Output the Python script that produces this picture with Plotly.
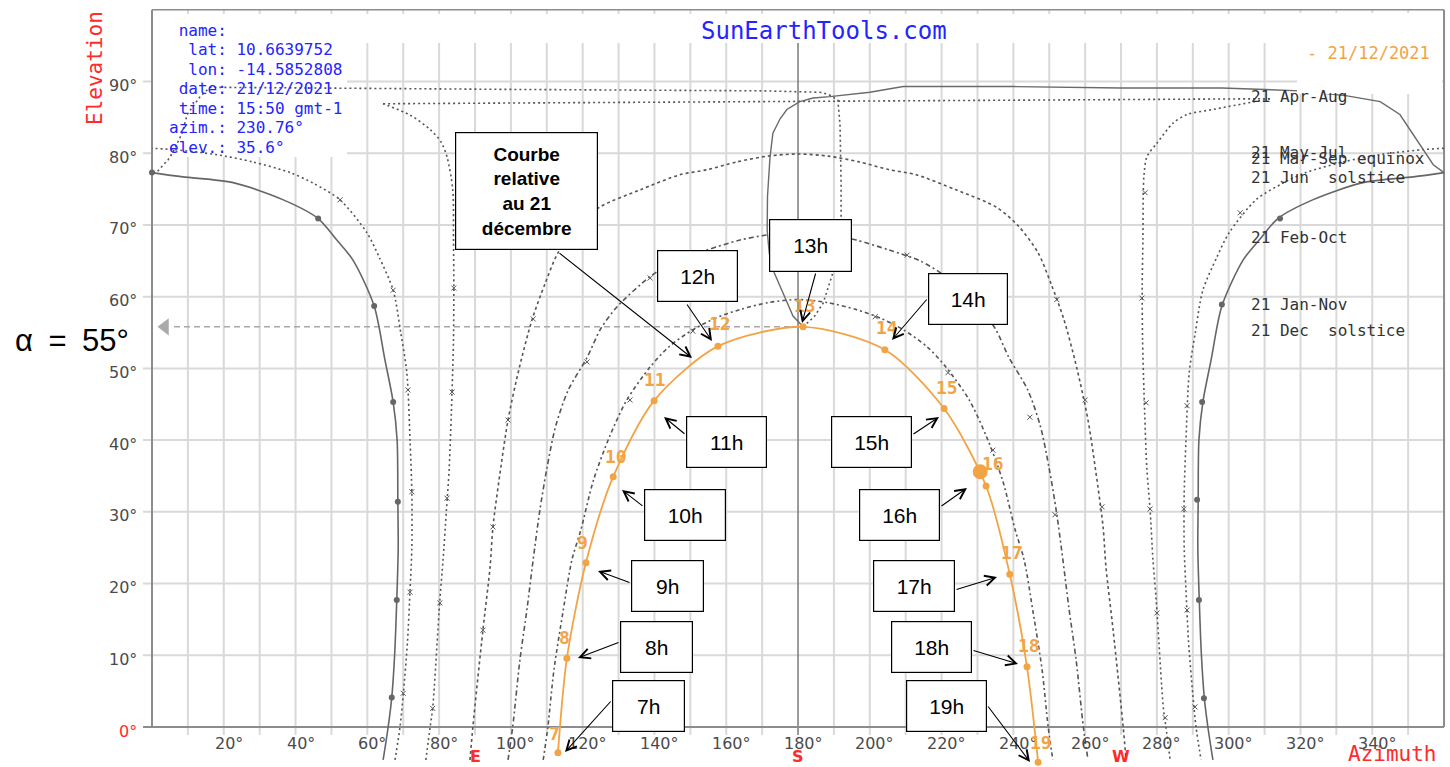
import plotly.graph_objects as go

# ---------------- data (azimuth deg, elevation deg) ----------------
hours = [7, 8, 9, 10, 11, 12, 13, 14, 15, 16, 17, 18, 19]
dec_az = [113.1, 115.6, 120.9, 128.5, 139.9, 157.7, 181.4, 204.2, 220.7, 232.4, 239.0, 243.8, 246.9]
dec_el = [-3.6, 9.6, 22.9, 34.9, 45.5, 53.1, 55.8, 52.6, 44.4, 33.6, 21.3, 8.4, -4.9]
now_az = [230.76]
now_el = [35.6]

jun_am_az = [64.4, 65.8, 66.8, 67.6, 68.2, 68.6, 68.5, 68.3, 67.2, 64.9, 61.9, 56.0, 51.5, 46.3, 36.6, 22.6, 8.6, 0.0]
jun_am_el = [-4.6, 0.0, 4.1, 10.0, 17.7, 25.0, 31.4, 40.0, 45.3, 51.2, 58.7, 65.1, 67.9, 70.9, 73.5, 75.9, 76.7, 77.3]
jun_pm_az = [360.0, 351.4, 337.4, 323.4, 313.7, 308.5, 304.0, 298.1, 295.1, 292.8, 291.7, 291.5, 291.4, 291.8, 292.4, 293.2, 294.2, 295.6]
jun_pm_el = [77.3, 76.7, 75.9, 73.5, 70.9, 67.9, 65.1, 58.7, 51.2, 45.3, 40.0, 31.4, 25.0, 17.7, 10.0, 4.1, 0.0, -4.6]

mayjul_am_az = [67.7, 69.1, 70.0, 71.2, 71.9, 72.4, 72.4, 71.9, 71.0, 69.3, 67.2, 63.3, 59.9, 52.4, 45.0, 38.5, 28.0, 18.1, 13.4, 6.0, 0.0]
mayjul_am_el = [-4.6, 0.0, 4.5, 12.0, 19.1, 25.0, 32.6, 40.0, 49.4, 55.0, 60.9, 65.5, 68.9, 73.5, 75.8, 77.3, 78.8, 79.8, 80.1, 80.5, 80.7]
mayjul_pm_az = [360.0, 354.0, 346.6, 341.9, 332.0, 321.5, 315.0, 307.6, 300.1, 296.7, 292.8, 290.7, 289.0, 288.1, 287.6, 287.6, 288.1, 288.8, 290.0, 290.9, 292.3]
mayjul_pm_el = [80.7, 80.5, 80.1, 79.8, 78.8, 77.3, 75.8, 73.5, 68.9, 65.5, 60.9, 55.0, 49.4, 40.0, 32.6, 25.0, 19.1, 12.0, 4.5, 0.0, -4.6]

apraug_am_az = [76.3, 77.5, 78.2, 80.2, 81.1, 82.0, 82.8, 83.6, 84.0, 84.1, 84.0, 83.8, 82.2, 80.5, 77.5, 72.0, 64.4]
apraug_am_el = [-4.6, 0.0, 2.6, 17.7, 23.3, 30.0, 36.0, 46.7, 54.0, 61.4, 68.0, 74.9, 79.5, 81.6, 83.3, 85.3, 86.9]
apraug_x_az = [64.4, 311.5]
apraug_x_el = [86.9, 87.6]
apraug_pm_az = [311.5, 295.6, 288.4, 284.5, 280.0, 277.2, 276.4, 276.2, 276.1, 275.9, 276.0, 276.4, 277.2, 278.1, 278.9, 279.8, 281.8, 282.5, 283.7]
apraug_pm_el = [87.6, 86.1, 85.4, 84.2, 81.4, 79.5, 77.0, 74.5, 68.0, 61.4, 54.0, 46.7, 36.0, 30.3, 23.3, 17.7, 2.6, 0.0, -4.6]

marsep_az = [88.6, 89.4, 92.2, 94.2, 95.0, 97.0, 99.2, 102.3, 105.9, 109.5, 113.1, 118.5, 124.8, 136.0, 147.1, 154.6, 163.0, 171.6, 180.0,
             188.4, 197.0, 205.4, 212.9, 224.0, 235.2, 241.5, 246.9, 250.5, 254.1, 257.7, 260.8, 263.0, 265.0, 265.8, 267.8, 270.6, 271.4]
marsep_el = [-4.6, 0.0, 13.5, 22.3, 27.9, 35.5, 42.8, 50.0, 56.8, 61.8, 66.1, 69.8, 72.5, 74.9, 77.0, 77.7, 78.8, 79.6, 79.9,
             79.6, 78.8, 77.7, 77.0, 74.9, 72.5, 69.8, 66.1, 61.8, 56.8, 50.0, 42.8, 35.5, 27.9, 22.3, 13.5, 0.0, -4.6]

feboct_az = [99.2, 100.5, 102.5, 104.5, 106.2, 108.0, 110.0, 112.5, 116.0, 121.2, 125.0, 129.6, 138.8, 146.0, 154.6, 163.8, 171.4, 180.0,
             188.6, 196.2, 205.4, 214.0, 221.2, 230.4, 235.0, 238.8, 244.0, 247.5, 250.0, 252.0, 253.8, 255.5, 257.5, 259.5, 260.8]
feboct_el = [-4.6, 0.0, 9.3, 16.5, 23.3, 30.0, 36.0, 42.0, 47.0, 51.5, 55.5, 58.6, 62.8, 65.0, 66.5, 67.9, 68.6, 69.0,
             68.6, 67.9, 66.5, 65.0, 62.8, 58.6, 55.5, 51.5, 47.0, 42.0, 36.0, 30.0, 23.3, 16.5, 9.3, 0.0, -4.6]

jannov_az = [109.0, 110.3, 112.0, 114.5, 117.0, 119.5, 123.0, 127.5, 132.3, 138.8, 144.0, 150.7, 157.0, 163.8, 172.0, 180.0,
             188.0, 196.2, 203.0, 209.3, 216.0, 221.2, 227.7, 232.5, 237.0, 240.5, 243.0, 245.5, 248.0, 249.7, 251.0]
jannov_el = [-4.6, 0.0, 8.0, 16.0, 23.3, 27.5, 34.4, 40.5, 45.6, 50.2, 53.0, 55.4, 57.0, 58.2, 59.2, 59.6,
             59.2, 58.2, 57.0, 55.4, 53.0, 50.2, 45.6, 40.5, 34.4, 27.5, 23.3, 16.0, 8.0, 0.0, -4.6]

# 13h analemma loop (two branches)
ana_a_az = [181.4, 178.6, 176.0, 173.4, 172.0, 171.4, 171.5, 172.2, 173.0, 175.0, 176.9, 180.5, 184.2, 188.9, 200.0, 209.3,
            240.0, 270.0, 298.1, 320.0, 333.0, 342.2, 347.7, 351.4, 355.3, 357.0, 360.0]
ana_a_el = [55.8, 57.3, 60.3, 63.3, 66.0, 69.3, 74.0, 79.5, 82.8, 84.8, 86.1, 87.2, 87.7, 87.9, 88.5, 89.3,
            89.3, 89.1, 89.1, 88.7, 88.0, 87.2, 85.4, 82.6, 79.8, 78.4, 77.3]
ana_b_az = [181.4, 184.5, 187.0, 189.7, 191.3, 192.0, 192.0, 191.9, 191.7, 191.1, 188.5, 186.1, 170.0, 100.0, 16.2,
            13.4, 9.8, 8.4, 5.9, 4.5, 1.4, 0.0]
ana_b_el = [55.8, 57.2, 59.1, 63.3, 67.0, 71.0, 76.0, 80.0, 84.0, 87.4, 88.2, 88.5, 88.7, 88.9, 89.2,
            87.9, 85.4, 82.8, 80.2, 79.1, 77.4, 77.3]

# hour marks on the grey date curves
jun_mk_az = [66.8, 68.2, 68.5, 67.2, 61.9, 46.3, 0.0, 314.3, 298.1, 292.6, 291.2, 291.7, 293.1]
jun_mk_el = [4.1, 17.7, 31.4, 45.3, 58.7, 70.9, 77.3, 70.9, 58.9, 45.3, 31.7, 17.7, 4.0]
oth_mk_az = [70.0, 71.9, 72.4, 71.3, 67.2, 52.4, 303.2, 288.4, 287.5, 288.4, 290.6,
             78.2, 80.2, 82.2, 83.6, 84.1, 275.8, 276.7, 277.0, 278.1, 280.0, 282.3,
             92.2, 95.0, 99.2, 106.2, 252.1, 260.0, 264.7,
             121.2, 138.8, 210.4, 244.6, 251.6,
             133.2, 150.7, 201.5, 221.8, 234.3]
oth_mk_el = [4.7, 18.8, 32.8, 47.0, 60.9, 73.5, 71.7, 44.8, 30.4, 16.3, 2.8,
             2.6, 17.3, 31.9, 46.7, 61.2, 59.8, 74.5, 45.2, 30.4, 15.9, 1.3,
             13.5, 27.9, 42.8, 56.9, 59.6, 45.6, 30.7,
             50.9, 62.6, 65.8, 43.2, 29.6,
             45.6, 55.2, 57.2, 49.4, 38.6]

curve_labels = ["21 Apr-Aug", "21 May-Jul", "21 Mar-Sep equinox", "21 Jun  solstice",
                "21 Feb-Oct", "21 Jan-Nov", "21 Dec  solstice"]
info_lines = ["\u00a0name:", "\u00a0\u00a0lat: 10.6639752", "\u00a0\u00a0lon: -14.5852808",
              "\u00a0date: 21/12/2021", "\u00a0time: 15:50 gmt-1", "azim.: 230.76°", "elev.: 35.6°"]
box_texts = ["<b>Courbe<br>relative<br>au 21<br>décembre</b>", "12h", "13h", "14h", "11h", "15h", "10h",
             "16h", "9h", "17h", "8h", "18h", "7h", "19h"]
x_ticks = list(range(20, 360, 20))
y_ticks = list(range(0, 100, 10))

# ---------------- pixel geometry of the page ----------------
W, H = 1450, 767
X0, Y0 = 152, 727
PXA, PXE = 3.589, 7.172


def ax(px):
    return (px - X0) / PXA


def ay(py):
    return (Y0 - py) / PXE


GREY = "#555555"
ORANGE = "#f2a445"
BLUE = "#2424ff"
RED = "#ff2a2a"
MONO = "DejaVu Sans Mono"

fig = go.Figure()


def line(xs, ys, dash="solid", color=GREY, width=1.6, shape="spline"):
    fig.add_trace(go.Scatter(x=xs, y=ys, mode="lines", hoverinfo="skip",
                             line=dict(color=color, width=width, dash=dash, shape=shape, smoothing=0.8)))


DOT = "2px,3px"
line(jun_am_az, jun_am_el, "solid", "#666666", 1.6)
line(jun_pm_az, jun_pm_el, "solid", "#666666", 1.6)
line(mayjul_am_az, mayjul_am_el, DOT)
line(mayjul_pm_az, mayjul_pm_el, DOT)
line(apraug_am_az, apraug_am_el, DOT)
line(apraug_x_az, apraug_x_el, DOT, shape="linear")
line(apraug_pm_az, apraug_pm_el, DOT)
line(marsep_az, marsep_el, "3px,3px")
line(feboct_az, feboct_el, "5px,3px,2px,3px")
line(jannov_az, jannov_el, "4px,3px,2px,3px")
line(ana_a_az, ana_a_el, "solid", "#6a6a6a", 1.4, shape="linear")
line(ana_b_az, ana_b_el, DOT, shape="linear")

fig.add_trace(go.Scatter(x=jun_mk_az, y=jun_mk_el, mode="markers", hoverinfo="skip",
                         marker=dict(color="#666666", size=6)))
fig.add_trace(go.Scatter(x=oth_mk_az, y=oth_mk_el, mode="markers", hoverinfo="skip",
                         marker=dict(symbol="x-thin", size=5, line=dict(color="#555555", width=1))))

# 21 December (orange) curve
fig.add_trace(go.Scatter(x=dec_az, y=dec_el, mode="lines+markers", hoverinfo="skip",
                         line=dict(color=ORANGE, width=1.8, shape="spline", smoothing=0.8),
                         marker=dict(color=ORANGE, size=7)))
fig.add_trace(go.Scatter(x=now_az, y=now_el, mode="markers", hoverinfo="skip",
                         marker=dict(color=ORANGE, size=15)))

# alpha arrow (grey dashed line with triangle)
peak = max(dec_el)
fig.add_trace(go.Scatter(x=[ax(165)], y=[peak], mode="markers", hoverinfo="skip",
                         marker=dict(symbol="triangle-left", size=15, color="#aaaaaa")))

shapes = []
GRID = "#d9d9d9"
for v in range(10, 360, 10):
    if v == 180:
        continue
    top = ay(157) if v <= 50 else ay(43)
    shapes.append(dict(type="line", x0=v, x1=v, y0=ay(735), y1=top, layer="below",
                       line=dict(color=GRID, width=2)))
    shapes.append(dict(type="line", x0=v, x1=v, y0=ay(14), y1=100, layer="below",
                       line=dict(color=GRID, width=2)))
for v in range(10, 100, 10):
    if v >= 80:
        shapes.append(dict(type="line", x0=ax(143), x1=0, y0=v, y1=v, layer="below",
                           line=dict(color=GRID, width=2)))
        shapes.append(dict(type="line", x0=ax(347), x1=360, y0=v, y1=v, layer="below",
                           line=dict(color=GRID, width=2)))
    else:
        shapes.append(dict(type="line", x0=ax(143), x1=360, y0=v, y1=v, layer="below",
                           line=dict(color=GRID, width=2)))
FRAME = "#8c8c8c"
shapes += [
    dict(type="line", x0=180, x1=180, y0=ay(735), y1=ay(43), layer="below", line=dict(color="#7a7a7a", width=1.5)),
    dict(type="line", x0=ax(143), x1=360, y0=0, y1=0, layer="below", line=dict(color=FRAME, width=2.2)),
    dict(type="line", x0=0, x1=0, y0=0, y1=100, layer="below", line=dict(color=FRAME, width=2)),
    dict(type="line", x0=0, x1=360, y0=100, y1=100, layer="below", line=dict(color=FRAME, width=1.5)),
    dict(type="line", x0=360, x1=360, y0=0, y1=100, layer="below", line=dict(color=FRAME, width=2)),
    dict(type="line", x0=ax(174), x1=180, y0=peak, y1=peak, layer="below",
         line=dict(color="#a8a8a8", width=1.4, dash="6px,4px")),
    dict(type="rect", x0=ax(1297), x1=ax(1442), y0=ay(94), y1=ay(13), layer="above",
         fillcolor="white", line=dict(width=0)),
]

ann = []
# info block
for i, t in enumerate(info_lines):
    ann.append(dict(x=ax(167), y=ay(30 + i * 19.5), text=t, xanchor="left", yanchor="middle", showarrow=False,
                    font=dict(family=MONO, size=16, color=BLUE)))
ann.append(dict(x=ax(824), y=ay(31), text="SunEarthTools.com", showarrow=False,
                font=dict(family=MONO, size=24, color=BLUE)))
# axis labels
ann.append(dict(x=ax(95), y=ay(68), text="Elevation", textangle=-90, showarrow=False,
                font=dict(family=MONO, size=21, color=RED)))
ann.append(dict(x=ax(1392), y=ay(754), text="Azimuth", showarrow=False,
                font=dict(family=MONO, size=21, color=RED)))
for v in y_ticks:
    ann.append(dict(x=ax(139), y=v, yshift=-4, text=f"{v}°", xanchor="right", showarrow=False,
                    font=dict(family="DejaVu Sans", size=16, color=RED if v == 0 else "#4a4a4a")))
for v in x_ticks:
    ann.append(dict(x=v, xshift=5, y=ay(743), text=f"{v}°", showarrow=False,
                    font=dict(family="DejaVu Sans", size=16, color="#4a4a4a")))
for v, t in zip([90, 180, 270], ["E", "S", "W"]):
    ann.append(dict(x=v, y=ay(756), text=f"<b>{t}</b>", showarrow=False,
                    font=dict(family="DejaVu Sans", size=16, color=RED)))
# curve labels on the right
lab_y = [96, 152, 158, 177, 237, 304, 330]
for t, py in zip(curve_labels, lab_y):
    ann.append(dict(x=ax(1249), y=ay(py), text=t, xanchor="left", showarrow=False,
                    font=dict(family=MONO, size=16, color="#333333")))
ann.append(dict(x=ax(1305), y=ay(53), text="- 21/12/2021", xanchor="left", showarrow=False,
                font=dict(family=MONO, size=17, color=ORANGE)))
# orange hour numbers
hour_lab_px = [(554, 733), (564, 637), (582, 542), (616, 456), (655, 379), (720, 323), (805, 305),
               (887, 327), (947, 387), (993, 463), (1012, 552), (1029, 645), (1041, 742)]
for h, (px, py) in zip(hours, hour_lab_px):
    ann.append(dict(x=ax(px), y=ay(py), text=f"<b>{h}</b>", showarrow=False,
                    font=dict(family=MONO, size=18, color=ORANGE)))
# alpha label
ann.append(dict(x=ax(72), y=ay(340), text="α\u2002=\u200255°", showarrow=False,
                font=dict(family="Liberation Sans", size=31, color="black")))
# annotation boxes and arrows (pixel geometry)
boxes = [(455, 132, 598, 250), (657, 250, 738, 302), (769, 219, 852, 272), (928, 273, 1008, 325),
         (686, 416, 767, 468), (831, 416, 912, 468), (644, 489, 726, 541), (859, 489, 940, 541),
         (631, 560, 704, 612), (873, 560, 955, 612), (620, 621, 693, 673), (891, 621, 972, 673),
         (612, 680, 685, 732), (906, 680, 987, 732)]
arrows = [((558, 252), (692, 358)), ((686, 303), (712, 341)), ((816, 272), (802, 323)), ((928, 298), (892, 340)),
          ((686, 435), (664, 417)), ((912, 435), (939, 417)), ((644, 507), (622, 490)), ((940, 507), (967, 488)),
          ((631, 583), (598, 571)), ((955, 590), (997, 577)), ((620, 642), (578, 658)), ((972, 650), (1018, 664)),
          ((612, 700), (565, 752)), ((987, 705), (1030, 762))]
for (t, (x0, y0, x1, y1)) in zip(box_texts, boxes):
    big = t.startswith("<b>")
    ann.append(dict(x=ax((x0 + x1) / 2), y=ay((y0 + y1) / 2), text=t, showarrow=False,
                    width=x1 - x0 - 2, height=y1 - y0 - 2, borderpad=0, bgcolor="white",
                    bordercolor="black", borderwidth=1.2, align="center", valign="middle",
                    font=dict(family="Liberation Sans", size=19 if big else 21, color="black")))
for (tail, tip) in arrows:
    ann.append(dict(x=ax(tip[0]), y=ay(tip[1]), ax=ax(tail[0]), ay=ay(tail[1]), axref="x", ayref="y",
                    text="", showarrow=True, arrowhead=5, arrowsize=1.8, arrowwidth=1.1,
                    arrowcolor="black", standoff=0, startstandoff=0))

fig.update_layout(
    width=W, height=H, margin=dict(l=0, r=0, t=0, b=0), showlegend=False,
    plot_bgcolor="white", paper_bgcolor="white",
    xaxis=dict(range=[ax(0), ax(W)], visible=False, fixedrange=True),
    yaxis=dict(range=[ay(H), ay(0)], visible=False, fixedrange=True),
    shapes=shapes, annotations=ann,
)

fig.write_html("out.html", include_plotlyjs=True, config={"displayModeBar": False},
               post_script="document.body.style.margin='0px';document.body.style.overflow='hidden';")
